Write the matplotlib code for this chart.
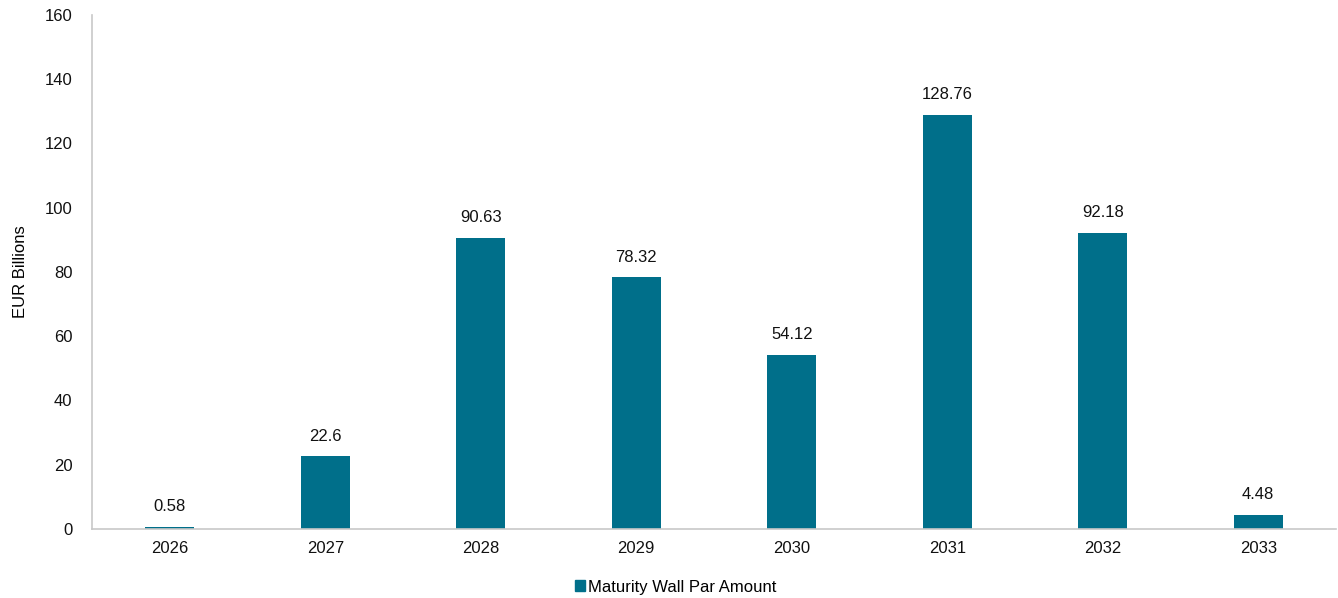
import matplotlib.pyplot as plt
from matplotlib.patches import Patch

plt.rcParams['font.family'] = ['Liberation Sans', 'DejaVu Sans']

# Data
years = ['2026', '2027', '2028', '2029', '2030', '2031', '2032', '2033']
amounts = [0.58, 22.6, 90.63, 78.32, 54.12, 128.76, 92.18, 4.48]
labels = ['0.58', '22.6', '90.63', '78.32', '54.12', '128.76', '92.18', '4.48']

color = '#006f8a'

fig = plt.figure(figsize=(13.38, 5.98), dpi=100)
ax = fig.add_axes([0.0688, 0.1154, 0.9297, 0.8596])

x = range(len(years))
bars = ax.bar(x, amounts, width=0.315, color=color)
for i, v in enumerate(amounts):
    ax.text(i, v + 4, labels[i], ha='center', va='bottom', fontsize=12, color='#111111')

ax.set_xlim(-0.5, len(years) - 0.5)
ax.set_ylim(0, 160)
ax.set_yticks(range(0, 161, 20))
ax.set_xticks(list(x))
ax.set_xticklabels(years)
ax.tick_params(axis='both', length=0, labelsize=12, colors='#111111')
ax.tick_params(axis='x', pad=9)
ax.tick_params(axis='y', pad=14)
ax.set_ylabel('EUR Billions', fontsize=12, labelpad=12)

for s in ['top', 'right']:
    ax.spines[s].set_visible(False)
for s in ['left', 'bottom']:
    ax.spines[s].set_color('#c8c8c8')
    ax.spines[s].set_linewidth(1.2)

ax.legend(handles=[Patch(color=color, label='Maturity Wall Par Amount')],
          loc='center', bbox_to_anchor=(0.469, -0.113), frameon=False,
          fontsize=12, handlelength=0.6, handleheight=0.6, handletextpad=0.2)

fig.savefig('out.png', dpi=100)
